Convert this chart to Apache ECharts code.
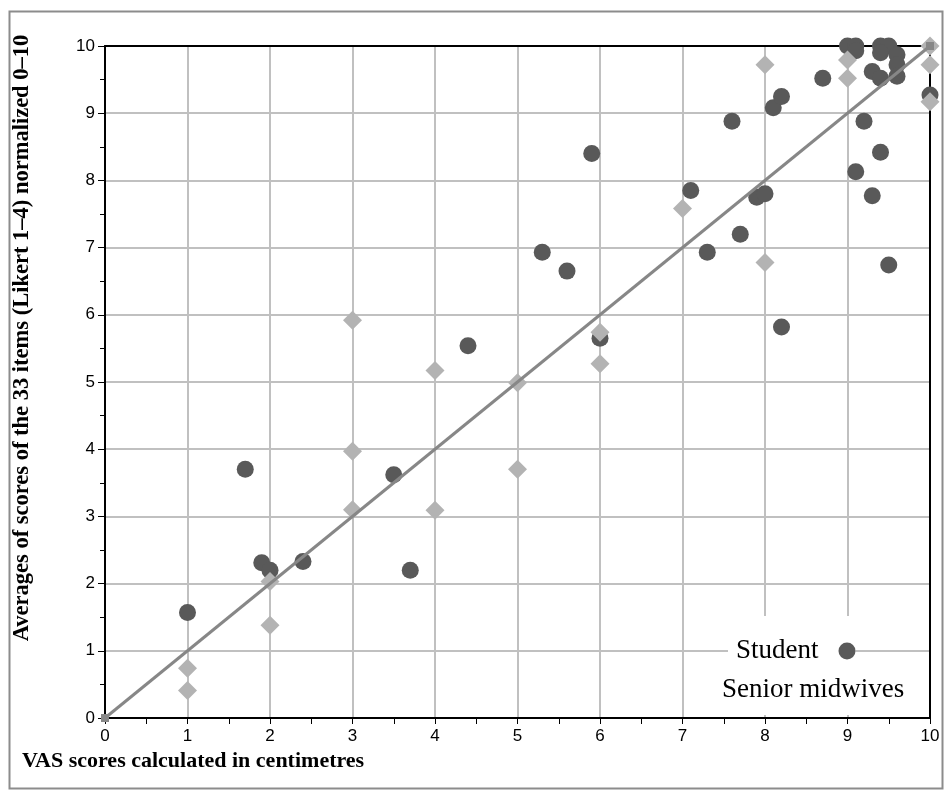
<!DOCTYPE html>
<html>
<head>
<meta charset="utf-8">
<script src="https://cdn.jsdelivr.net/npm/echarts@6/dist/echarts.min.js"></script>
<style>
html,body{margin:0;padding:0;background:#fff;}
#chart{width:947px;height:793px;}
</style>
</head>
<body>
<div id="chart"></div>
<script>
// Student: [VAS cm, average score normalized 0-10]
const studentX = [1, 1.7, 1.9, 2.0, 2.4, 3.5, 3.7, 4.4, 5.3, 5.6, 5.9, 6.0, 7.1, 7.3, 7.6, 7.7, 7.9, 8.0, 8.1, 8.2, 8.2, 8.7, 9.0, 9.1, 9.1, 9.4, 9.5, 9.4, 9.6, 9.3, 9.4, 9.6, 9.6, 10, 9.2, 9.4, 9.1, 9.3, 9.5];
const studentY = [1.57, 3.7, 2.31, 2.2, 2.33, 3.62, 2.2, 5.54, 6.93, 6.65, 8.4, 5.65, 7.85, 6.93, 8.88, 7.2, 7.75, 7.8, 9.08, 9.25, 5.82, 9.52, 10, 10, 9.93, 10, 10, 9.9, 9.87, 9.62, 9.52, 9.72, 9.55, 9.27, 8.88, 8.42, 8.13, 7.77, 6.74];
// Senior midwives
const seniorX = [1, 1, 2, 2, 3, 3, 3, 4, 4, 5, 5, 6, 6, 7, 8, 8, 9, 9, 10, 10, 10];
const seniorY = [0.74, 0.41, 2.03, 1.38, 5.92, 3.97, 3.1, 5.17, 3.09, 4.99, 3.7, 5.74, 5.27, 7.58, 9.72, 6.78, 9.79, 9.52, 10, 9.72, 9.17];
// Line of equality
const refX = [0, 10];
const refY = [0, 10];
const ticks = [0, 1, 2, 3, 4, 5, 6, 7, 8, 9, 10];
const seriesNames = ['Student', 'Senior midwives'];
const xTitle = 'VAS scores calculated in centimetres';
const yTitle = 'Averages of scores of the 33 items (Likert 1\u20134) normalized 0\u201310';

const zip = (a, b) => a.map((v, i) => [v, b[i]]);

const chart = echarts.init(document.getElementById('chart'), null, {renderer: 'canvas'});
const labelFont = "'Liberation Sans Narrow','Arial Narrow','Liberation Sans',Arial,sans-serif";
const serif = "'Liberation Serif','Times New Roman',serif";

const option = {
  animation: false,
  backgroundColor: '#fff',
  grid: {left: 105, right: 17, top: 46, bottom: 75, containLabel: false},
  xAxis: [{
    type: 'value', min: ticks[0], max: ticks[ticks.length - 1], interval: 1,
    axisLine: {show: true, onZero: false, lineStyle: {color: '#000', width: 2}},
    axisTick: {show: true, inside: false, length: 6, lineStyle: {color: '#000', width: 1}},
    minorTick: {show: true, splitNumber: 2, length: 6, lineStyle: {color: '#000', width: 1}},
    axisLabel: {margin: 10, color: '#000', fontSize: 17, fontFamily: labelFont},
    splitLine: {show: true, lineStyle: {color: '#c0c0c0', width: 2}}
  }, {
    type: 'value', position: 'top', min: 0, max: 10, interval: 1,
    axisLine: {show: true, onZero: false, lineStyle: {color: '#000', width: 2}},
    axisTick: {show: false}, axisLabel: {show: false}, splitLine: {show: false}
  }],
  yAxis: [{
    type: 'value', min: ticks[0], max: ticks[ticks.length - 1], interval: 1,
    axisLine: {show: true, onZero: false, lineStyle: {color: '#000', width: 2}},
    axisTick: {show: true, inside: false, length: 7, lineStyle: {color: '#000', width: 1}},
    minorTick: {show: true, splitNumber: 2, length: 5, lineStyle: {color: '#000', width: 1}},
    axisLabel: {margin: 10, color: '#000', fontSize: 17, fontFamily: labelFont},
    splitLine: {show: true, lineStyle: {color: '#c0c0c0', width: 2}}
  }, {
    type: 'value', position: 'right', min: 0, max: 10, interval: 1,
    axisLine: {show: true, onZero: false, lineStyle: {color: '#000', width: 2}},
    axisTick: {show: false}, axisLabel: {show: false}, splitLine: {show: false}
  }],
  legend: [{
    data: [{name: seriesNames[0], icon: 'circle'}],
    orient: 'vertical', align: 'right',
    left: 728, top: 616,
    itemWidth: 17, itemHeight: 17,
    backgroundColor: '#fff',
    padding: [20, 0, 4, 8],
    textStyle: {fontFamily: serif, fontSize: 27, lineHeight: 30, color: '#000', padding: [0, 15, 0, 0]},
    selectedMode: false
  }, {
    data: [{name: seriesNames[1], icon: 'none'}],
    orient: 'vertical', align: 'right',
    left: 714, top: 666,
    itemWidth: 10, itemHeight: 17,
    backgroundColor: '#fff',
    padding: [9, 8, 10, 8],
    textStyle: {fontFamily: serif, fontSize: 27, lineHeight: 30, color: '#000'},
    selectedMode: false
  }],
  graphic: [{
    type: 'rect', left: 7, top: 9, z: -10, silent: true,
    shape: {width: 933, height: 777},
    style: {fill: 'none', stroke: '#8c8c8c', lineWidth: 2}
  }, {
    type: 'text', x: 22, y: 338, rotation: Math.PI / 2,
    style: {text: yTitle, font: 'bold 22.5px ' + serif, fill: '#000', textAlign: 'center', textVerticalAlign: 'middle'}
  }, {
    type: 'text', x: 22, y: 761,
    style: {text: xTitle, font: 'bold 22px ' + serif, fill: '#000', textAlign: 'left', textVerticalAlign: 'middle'}
  }],
  series: [{
    name: seriesNames[0], type: 'scatter', symbol: 'circle', symbolSize: 17,
    itemStyle: {color: '#595959', opacity: 1}, z: 3,
    data: zip(studentX, studentY)
  }, {
    name: seriesNames[1], type: 'scatter', symbol: 'diamond', symbolSize: 19,
    itemStyle: {color: '#b3b3b3', opacity: 1}, z: 4,
    data: zip(seniorX, seniorY)
  }, {
    name: 'ref', type: 'line', symbol: 'rect', symbolSize: 8, showSymbol: true,
    itemStyle: {color: '#878787'}, lineStyle: {color: '#878787', width: 3}, z: 5,
    data: zip(refX, refY), silent: true
  }]
};
chart.setOption(option);
</script>
</body>
</html>
